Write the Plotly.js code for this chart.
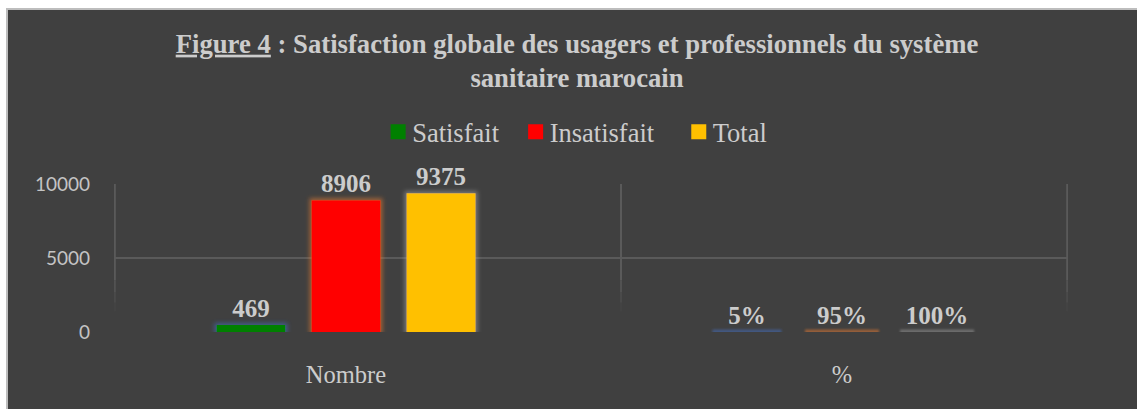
<!DOCTYPE html>
<html>
<head>
<meta charset="utf-8">
<script src="https://cdn.plot.ly/plotly-3.0.1.min.js"></script>
<style>
  html, body { margin: 0; padding: 0; background: #ffffff; }
  #frame { position: absolute; left: 6px; top: 8px; width: 1131px; height: 401px;
           border-left: 2px solid #bdbdbd; border-top: 2px solid #bdbdbd; box-sizing: border-box; background:#404040; }
  #chart { position: absolute; left: 0; top: 0; width: 1129px; height: 399px; }
</style>
</head>
<body>
<div id="frame"><div id="chart"></div></div>
<script>
// ---- data ----
const categories = ['Nombre', '%'];
const seriesNames = ['Satisfait', 'Insatisfait', 'Total'];
const satisfait = [469, 0.05];
const insatisfait = [8906, 0.95];
const total = [9375, 1];
const yTickVals = [0, 5000, 10000];
const yTickText = ['0', '5000', '10000'];

// ---- styles ----
const fillColors = ['#008000', '#FF0000', '#FFC000'];
const glowColors = ['#4472C4', '#ED7D31', '#A5A5A5'];
const glowStrip = ['rgba(68,114,196,0.5)', 'rgba(237,125,49,0.5)', 'rgba(165,165,165,0.45)'];
const textColor = '#cccccc';
const serif = 'Liberation Serif';
const legendItemShift = [-9, -4, 9];

function labelsFor(vals) {
  return vals.map((v, i) => categories[i] === '%' ? Math.round(v * 100) + '%' : String(v));
}

const seriesValues = [satisfait, insatisfait, total];
const traces = seriesValues.map((vals, s) => ({
  type: 'bar',
  name: seriesNames[s],
  x: categories,
  y: vals,
  text: labelsFor(vals),
  textposition: 'outside',
  cliponaxis: false,
  textfont: { family: serif, size: 25, color: textColor, weight: 'bold' },
  marker: {
    color: [fillColors[s], 'rgba(0,0,0,0)'],
    line: { width: [0, 5], color: [glowStrip[s], glowStrip[s]] }
  },
  hoverinfo: 'none'
}));

const xr = [-0.4677, 1.4556];
const vlinesX = [-0.466, 0.5544, 1.454];
const shapes = [];
const segs = [[10000, 3500, 1], [3500, 2700, 0.7], [2700, 2000, 0.4], [2000, 1400, 0.15]];
vlinesX.forEach(x => segs.forEach(sg => shapes.push({
  type: 'line', xref: 'x', yref: 'y', x0: x, x1: x, y0: sg[0], y1: sg[1],
  line: { color: '#5a5a5a', width: 2 }, opacity: sg[2], layer: 'below'
})));

const layout = {
  width: 1129, height: 399,
  paper_bgcolor: '#404040', plot_bgcolor: '#404040',
  margin: { l: 106, r: 69, t: 174, b: 77 },
  barmode: 'group', bargap: 0.425, bargroupgap: 0.274,
  title: {
    text: '<u>Figure 4</u> : Satisfaction globale des usagers et professionnels du système<br>sanitaire marocain',
    font: { family: serif, size: 26.7, color: textColor, weight: 'bold' },
    xref: 'container', x: 0.504, xanchor: 'center',
    yref: 'container', y: 0.893, yanchor: 'top'
  },
  showlegend: true,
  legend: {
    orientation: 'h', xref: 'container', x: 0.505, xanchor: 'center',
    yref: 'container', y: 0.694, yanchor: 'middle',
    font: { family: serif, size: 26.5, color: textColor },
    bgcolor: 'rgba(0,0,0,0)', traceorder: 'normal', itemwidth: 30
  },
  xaxis: {
    type: 'category', range: xr, showgrid: false, zeroline: false, showline: false,
    ticks: '', tickfont: { family: serif, size: 24.5, color: textColor },
    ticklabelstandoff: 25
  },
  yaxis: {
    range: [0, 10000], tickvals: yTickVals, ticktext: yTickText,
    showgrid: true, gridcolor: '#5a5a5a', gridwidth: 2,
    zeroline: true, zerolinecolor: '#404040', zerolinewidth: 1,
    showline: false, ticks: '',
    tickfont: { family: 'Lato, Open Sans, sans-serif', size: 19, color: '#c4c4c4' },
    ticklabelstandoff: 23
  },
  shapes: shapes
};

Plotly.newPlot('chart', traces, layout, { staticPlot: true, displayModeBar: false }).then(gd => {
  const svg = gd.querySelector('svg.main-svg');
  const NS = 'http://www.w3.org/2000/svg';
  let defs = svg.querySelector('defs');
  if (!defs) { defs = document.createElementNS(NS, 'defs'); svg.insertBefore(defs, svg.firstChild); }
  let html = '';
  glowColors.forEach((c, i) => {
    html += `<filter id="glow${i}" filterUnits="userSpaceOnUse" x="-500" y="-500" width="2500" height="1500">
      <feMorphology in="SourceAlpha" operator="dilate" radius="1.5" result="d"/>
      <feGaussianBlur in="d" stdDeviation="2" result="b"/>
      <feFlood flood-color="${c}" flood-opacity="0.55"/>
      <feComposite in2="b" operator="in" result="g"/>
      <feMerge><feMergeNode in="g"/><feMergeNode in="SourceGraphic"/></feMerge>
    </filter>`;
  });
  html += `<filter id="soft" filterUnits="userSpaceOnUse" x="-500" y="-500" width="2500" height="1500">
      <feGaussianBlur in="SourceGraphic" stdDeviation="1.2"/></filter>`;
  defs.insertAdjacentHTML('beforeend', html);
  gd.querySelectorAll('.barlayer .trace').forEach((tg, i) => {
    tg.querySelectorAll('.point path').forEach((p, j) => {
      p.setAttribute('filter', j === 0 ? `url(#glow${i})` : 'url(#soft)');
    });
  });
  gd.querySelectorAll('.legend .legendpoints path').forEach(p => {
    const t = p.getAttribute('transform') || '';
    p.setAttribute('transform', t + ' scale(1.25)');
  });
  gd.querySelectorAll('.legend text.legendtext').forEach(t => {
    const x = parseFloat(t.getAttribute('x')) || 40;
    t.setAttribute('x', x - 6);
  });
  gd.querySelectorAll('.legend g.traces').forEach((g, k) => {
    const t = g.getAttribute('transform') || '';
    g.setAttribute('transform', t + ` translate(${legendItemShift[k] || 0},0)`);
  });
});
</script>
</body>
</html>
